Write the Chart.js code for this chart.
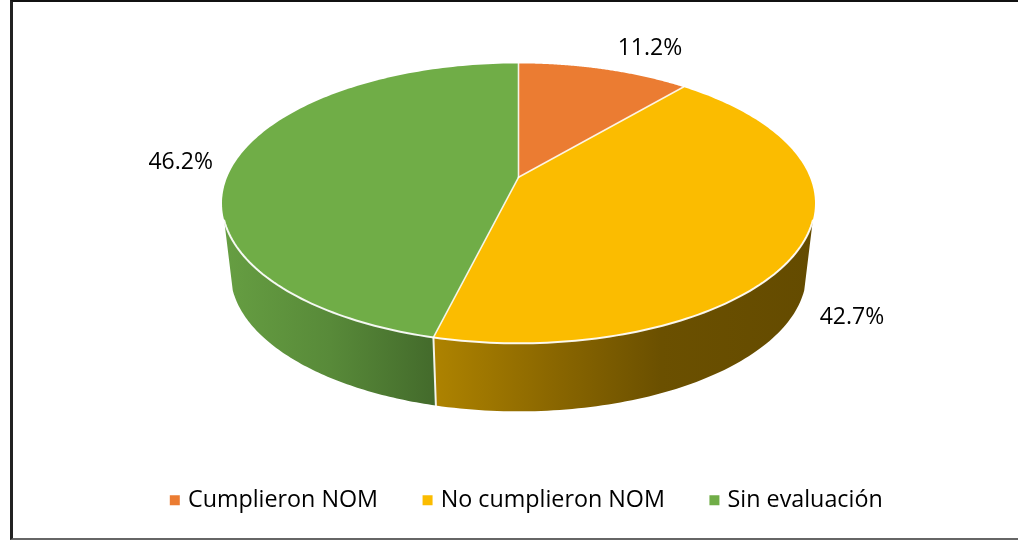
<!DOCTYPE html>
<html><head><meta charset="utf-8">
<style>
html,body{margin:0;padding:0;background:#fff;overflow:hidden}
#wrap{position:absolute;left:0;top:0;width:1018px;height:540px}
#frame{position:absolute;left:10px;top:0;width:1008px;height:540px;box-sizing:border-box;border-left:3px solid #222;border-top:2px solid #111;border-bottom:2px solid #666;pointer-events:none}
</style>
<script src="https://cdn.jsdelivr.net/npm/chart.js@4/dist/chart.umd.min.js"></script>
</head><body>
<div id="wrap"><canvas id="c" width="1018" height="540"></canvas><div id="frame"></div></div>
<script>
const categories = ['Cumplieron NOM', 'No cumplieron NOM', 'Sin evaluación'];
const values = [11.2, 42.7, 46.2];
const topColors = ['#EB7C32', '#FBBC00', '#70AD47'];
const wallStops = [
  [],
  [[0, '#AE8300'], [0.3, '#8C6800'], [0.6, '#6B5000'], [1, '#644B00']],
  [[0, '#669E42'], [0.5, '#588A39'], [1, '#436A2B']]
];
const labelNudges = [[46, -21], [50, 73], [-55, 1]];
const G = { dx: -9.5, dy: -17 };

const pie3d = {
  id: 'pie3d',
  beforeDatasetDraw(chart) {
    const ctx = chart.ctx, arcs = chart.getDatasetMeta(0).data;
    const a0 = arcs[0], rx = a0.outerRadius, ry = rx * 0.472;
    const cx = a0.x + G.dx, cy = a0.y + G.dy;
    const e = 0.186, s = Math.sqrt(1 - e * e);
    const rx2 = rx * 0.971, ry2 = rx * 0.4655, cy2 = cy + 70;
    const tMin = 97 * Math.PI / 180, tMax = 263 * Math.PI / 180;
    const proj = th => {
      const x = Math.sin(th), y = Math.cos(th), d = 1 + e * y;
      return [x * s / d, (y + e) / d];
    };
    const param = th => { let t = Math.atan2(...proj(th)); if (t < -1e-6) t += 2 * Math.PI; return t; };
    const topPt = t => [cx + rx * Math.sin(t), cy - ry * Math.cos(t)];
    const botPt = t => [cx + rx2 * Math.sin(t), cy2 - ry2 * Math.cos(t)];
    const spans = arcs.map(a => {
      const th1 = a.startAngle + Math.PI / 2, th2 = a.endAngle + Math.PI / 2;
      return { th1, th2, t1: param(th1), t2: th2 >= 2 * Math.PI - 1e-6 ? 2 * Math.PI : param(th2) };
    });
    // side wall
    spans.forEach((sp, i) => {
      const t1 = Math.max(sp.t1, tMin), t2 = Math.min(sp.t2, tMax);
      if (t2 <= t1) return;
      const pts = [], N = 80;
      for (let k = 0; k <= N; k++) pts.push(topPt(t1 + (t2 - t1) * k / N));
      for (let k = N; k >= 0; k--) pts.push(botPt(t1 + (t2 - t1) * k / N));
      const xs = pts.map(p => p[0]);
      const g = ctx.createLinearGradient(Math.min(...xs), 0, Math.max(...xs), 0);
      wallStops[i].forEach(st => g.addColorStop(st[0], st[1]));
      ctx.beginPath();
      pts.forEach((p, k) => k ? ctx.lineTo(p[0], p[1]) : ctx.moveTo(p[0], p[1]));
      ctx.closePath();
      ctx.fillStyle = g;
      ctx.fill();
    });
    // seams on the wall
    ctx.lineCap = 'round';
    spans.forEach(sp => {
      if (sp.t1 > tMin && sp.t1 < tMax) {
        const p = topPt(sp.t1), q = botPt(sp.t1);
        ctx.beginPath(); ctx.moveTo(p[0], p[1]); ctx.lineTo(q[0], q[1]);
        ctx.strokeStyle = 'rgba(255,255,255,0.9)'; ctx.lineWidth = 2; ctx.stroke();
      }
    });
    // top face
    const apex = [cx, cy - ry * e];
    spans.forEach((sp, i) => {
      ctx.beginPath();
      ctx.moveTo(apex[0], apex[1]);
      const N = 140;
      for (let k = 0; k <= N; k++) {
        const [x, y] = proj(sp.th1 + (sp.th2 - sp.th1) * k / N);
        ctx.lineTo(cx + rx * x, cy - ry * y);
      }
      ctx.closePath();
      ctx.fillStyle = topColors[i];
      ctx.fill();
    });
    ctx.lineJoin = 'round';
    spans.forEach(sp => {
      ctx.beginPath();
      const p = topPt(sp.t1);
      ctx.moveTo(apex[0], apex[1]); ctx.lineTo(p[0], p[1]);
      ctx.strokeStyle = 'rgba(255,255,255,0.85)'; ctx.lineWidth = 1.6; ctx.stroke();
    });
    ctx.beginPath();
    for (let k = 0; k <= 120; k++) {
      const p = topPt(tMin + (tMax - tMin) * k / 120);
      k ? ctx.lineTo(p[0], p[1]) : ctx.moveTo(p[0], p[1]);
    }
    ctx.strokeStyle = 'rgba(255,255,255,0.92)'; ctx.lineWidth = 2; ctx.stroke();
    // value labels
    ctx.fillStyle = '#000';
    ctx.font = '23px "Open Sans"';
    ctx.textAlign = 'center'; ctx.textBaseline = 'middle';
    spans.forEach((sp, i) => {
      const [x, y] = proj((sp.th1 + sp.th2) / 2);
      ctx.fillText(values[i].toFixed(1) + '%', cx + rx * x + labelNudges[i][0], cy - ry * y + labelNudges[i][1]);
    });
    return false;
  }
};

new Chart(document.getElementById('c'), {
  type: 'pie',
  data: { labels: categories, datasets: [{ data: values, backgroundColor: topColors, borderWidth: 0, radius: 296.5 }] },
  options: {
    responsive: false, animation: false, events: [],
    layout: { padding: { left: 38, right: 0, top: 0, bottom: 18 } },
    plugins: {
      tooltip: { enabled: false },
      legend: {
        position: 'bottom',
        labels: {
          color: '#000', font: { family: '"Open Sans"', size: 23.3 },
          usePointStyle: true, pointStyle: 'rect', boxWidth: 3, boxHeight: 10, padding: 48
        }
      }
    }
  },
  plugins: [pie3d]
});
</script>
</body></html>
